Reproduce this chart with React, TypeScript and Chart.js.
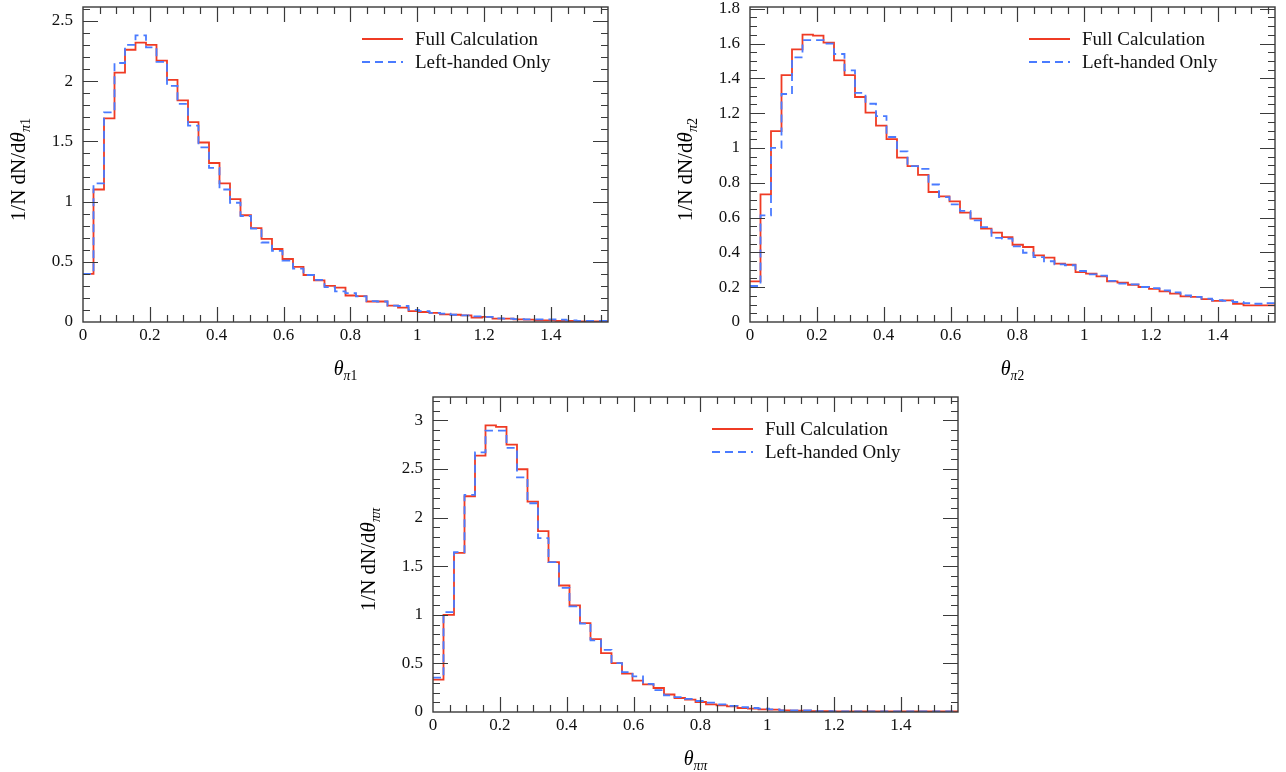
import React, { useEffect, useRef } from "react";
import { Chart, registerables } from "chart.js";

Chart.register(...registerables);

// ---------- data ----------
const BIN_COUNT = 50;
const X_MAX = Math.PI / 2;
const BIN_WIDTH = X_MAX / BIN_COUNT;

const seriesLabels = ["Full Calculation", "Left-handed Only"];

const xTickValues = [0, 0.2, 0.4, 0.6, 0.8, 1.0, 1.2, 1.4];
const xTickLabels = ["0", "0.2", "0.4", "0.6", "0.8", "1", "1.2", "1.4"];

const yTickValues1 = [0, 0.5, 1, 1.5, 2, 2.5];
const yTickLabels1 = ["0", "0.5", "1", "1.5", "2", "2.5"];
const yTickValues2 = [0, 0.2, 0.4, 0.6, 0.8, 1, 1.2, 1.4, 1.6, 1.8];
const yTickLabels2 = ["0", "0.2", "0.4", "0.6", "0.8", "1", "1.2", "1.4", "1.6", "1.8"];
const yTickValues3 = [0, 0.5, 1, 1.5, 2, 2.5, 3];
const yTickLabels3 = ["0", "0.5", "1", "1.5", "2", "2.5", "3"];

// theta_pi1
const full1 = [0.40, 1.10, 1.69, 2.07, 2.26, 2.32, 2.30, 2.17, 2.01, 1.84, 1.66, 1.49, 1.32, 1.15, 1.02, 0.886, 0.78, 0.69, 0.606, 0.523, 0.457, 0.39, 0.346, 0.30, 0.285, 0.22, 0.215, 0.17, 0.17, 0.136, 0.12, 0.09, 0.083, 0.075, 0.064, 0.06, 0.055, 0.036, 0.042, 0.028, 0.028, 0.022, 0.02, 0.014, 0.014, 0.01, 0.01, 0.006, 0.006, 0.006];
const left1 = [0.40, 1.15, 1.74, 2.15, 2.30, 2.38, 2.28, 2.16, 1.96, 1.81, 1.63, 1.45, 1.28, 1.10, 0.99, 0.88, 0.775, 0.66, 0.59, 0.51, 0.443, 0.39, 0.35, 0.29, 0.255, 0.24, 0.213, 0.174, 0.17, 0.136, 0.133, 0.10, 0.09, 0.075, 0.07, 0.06, 0.055, 0.047, 0.042, 0.03, 0.028, 0.024, 0.022, 0.022, 0.022, 0.019, 0.014, 0.01, 0.01, 0.01];

// theta_pi2
const full2 = [0.234, 0.733, 1.097, 1.419, 1.566, 1.651, 1.645, 1.605, 1.503, 1.419, 1.293, 1.203, 1.128, 1.051, 0.944, 0.896, 0.845, 0.747, 0.722, 0.693, 0.628, 0.594, 0.536, 0.513, 0.488, 0.444, 0.431, 0.383, 0.37, 0.335, 0.329, 0.287, 0.278, 0.262, 0.234, 0.226, 0.214, 0.201, 0.19, 0.176, 0.163, 0.147, 0.144, 0.132, 0.121, 0.124, 0.105, 0.096, 0.096, 0.096];
const left2 = [0.207, 0.613, 1.0, 1.31, 1.52, 1.62, 1.62, 1.60, 1.54, 1.446, 1.316, 1.254, 1.183, 1.063, 0.98, 0.896, 0.88, 0.79, 0.718, 0.676, 0.638, 0.584, 0.545, 0.483, 0.479, 0.435, 0.398, 0.373, 0.349, 0.331, 0.326, 0.293, 0.274, 0.266, 0.236, 0.22, 0.216, 0.201, 0.195, 0.182, 0.17, 0.153, 0.144, 0.134, 0.125, 0.121, 0.115, 0.109, 0.105, 0.109];

// theta_pipi
const full3 = [0.332, 1.0, 1.637, 2.219, 2.637, 2.949, 2.932, 2.75, 2.497, 2.164, 1.86, 1.541, 1.301, 1.096, 0.914, 0.75, 0.606, 0.503, 0.394, 0.322, 0.284, 0.247, 0.18, 0.144, 0.127, 0.103, 0.079, 0.068, 0.058, 0.041, 0.034, 0.027, 0.024, 0.017, 0.014, 0.014, 0.01, 0.01, 0.007, 0.007, 0.007, 0.007, 0.007, 0.007, 0.007, 0.007, 0.007, 0.007, 0.007, 0.007];
const left3 = [0.353, 1.027, 1.644, 2.233, 2.671, 2.894, 2.894, 2.716, 2.414, 2.147, 1.788, 1.541, 1.277, 1.086, 0.908, 0.736, 0.64, 0.503, 0.411, 0.366, 0.29, 0.225, 0.17, 0.154, 0.134, 0.113, 0.096, 0.079, 0.062, 0.051, 0.041, 0.034, 0.027, 0.017, 0.017, 0.017, 0.01, 0.01, 0.007, 0.007, 0.007, 0.007, 0.007, 0.007, 0.007, 0.007, 0.007, 0.007, 0.007, 0.007];

// ---------- styling ----------
const RED = "#ef3b24";
const BLUE = "#4a7bff";
const FRAME = "#3a3a3a";
const FONT = "'Liberation Serif', 'DejaVu Serif', serif";

const binEdges = Array.from({ length: BIN_COUNT + 1 }, (_, i) => i * BIN_WIDTH);

function histPoints(values: number[]) {
  return binEdges.map((x, i) => ({ x, y: values[Math.min(i, values.length - 1)] }));
}

type MathPart = { t: string; it?: boolean; sub?: boolean };

function mathWidth(ctx: CanvasRenderingContext2D, parts: MathPart[], size: number) {
  let w = 0;
  for (const p of parts) {
    const s = p.sub ? size * 0.68 : size;
    ctx.font = `${p.it ? "italic " : ""}${s}px ${FONT}`;
    w += ctx.measureText(p.t).width;
  }
  return w;
}

function drawMath(ctx: CanvasRenderingContext2D, parts: MathPart[], size: number, cx: number, cy: number, rotate: boolean) {
  ctx.save();
  ctx.translate(cx, cy);
  if (rotate) ctx.rotate(-Math.PI / 2);
  const w = mathWidth(ctx, parts, size);
  let x = -w / 2;
  ctx.fillStyle = "#000";
  ctx.textBaseline = "alphabetic";
  ctx.textAlign = "left";
  const base = size * 0.33;
  for (const p of parts) {
    const s = p.sub ? size * 0.68 : size;
    ctx.font = `${p.it ? "italic " : ""}${s}px ${FONT}`;
    ctx.fillText(p.t, x, base + (p.sub ? size * 0.25 : 0));
    x += ctx.measureText(p.t).width;
  }
  ctx.restore();
}

const framePlugin = {
  id: "frame",
  afterDatasetsDraw(chart: any, _args: any, opts: any) {
    const { ctx, chartArea: a, scales } = chart;
    const xs = scales.x;
    const ys = scales.y;
    ctx.save();
    ctx.strokeStyle = FRAME;
    ctx.lineWidth = 1.4;
    ctx.strokeRect(a.left, a.top, a.right - a.left, a.bottom - a.top);
    const MAJ = 15;
    const MIN = 7;
    ctx.lineWidth = 1.2;
    ctx.beginPath();
    // x ticks
    for (let v = 0; v <= X_MAX + 1e-9; v += 0.05) {
      const r = Math.round(v * 100) / 100;
      const major = Math.abs(r * 5 - Math.round(r * 5)) < 1e-6;
      const len = major ? MAJ : MIN;
      const px = Math.round(xs.getPixelForValue(r)) + 0.5;
      if (px <= a.left + 1 || px >= a.right - 1) continue;
      ctx.moveTo(px, a.bottom);
      ctx.lineTo(px, a.bottom - len);
      ctx.moveTo(px, a.top);
      ctx.lineTo(px, a.top + len);
    }
    // y ticks
    const step = opts.yMinorStep;
    const majorStep = opts.yMajorStep;
    for (let i = 0; i * step <= ys.max + 1e-9; i++) {
      const v = i * step;
      const ratio = v / majorStep;
      const major = Math.abs(ratio - Math.round(ratio)) < 1e-6;
      const len = major ? MAJ : MIN;
      const py = Math.round(ys.getPixelForValue(v)) + 0.5;
      if (py >= a.bottom - 1 || py <= a.top + 1) continue;
      ctx.moveTo(a.left, py);
      ctx.lineTo(a.left + len, py);
      ctx.moveTo(a.right, py);
      ctx.lineTo(a.right - len, py);
    }
    ctx.stroke();
    ctx.restore();
  },
  afterDraw(chart: any, _args: any, opts: any) {
    const { ctx, chartArea: a, data } = chart;
    ctx.save();
    // legend
    const rows = [
      { y: a.top + 32, color: RED, dash: [] as number[], label: data.datasets[0].label },
      { y: a.top + 55, color: BLUE, dash: [8, 5], label: data.datasets[1].label },
    ];
    for (const r of rows) {
      ctx.strokeStyle = r.color;
      ctx.lineWidth = 1.8;
      ctx.setLineDash(r.dash);
      ctx.beginPath();
      ctx.moveTo(a.right - 246, r.y);
      ctx.lineTo(a.right - 205, r.y);
      ctx.stroke();
      ctx.setLineDash([]);
      ctx.fillStyle = "#111";
      ctx.font = `19px ${FONT}`;
      ctx.textBaseline = "middle";
      ctx.textAlign = "left";
      ctx.fillText(r.label, a.right - 193, r.y + 1);
    }
    ctx.restore();
    // axis titles
    drawMath(ctx, opts.yTitle, 21, a.left - 65, (a.top + a.bottom) / 2 + 5, true);
    drawMath(ctx, opts.xTitle, 20, (a.left + a.right) / 2, a.bottom + 46, false);
  },
};

type PanelProps = {
  left: number;
  top: number;
  width: number;
  height: number;
  padRight: number;
  full: number[];
  leftOnly: number[];
  yMax: number;
  yTicks: number[];
  yLabels: string[];
  yMinorStep: number;
  yMajorStep: number;
  sub: MathPart[];
};

function Panel(p: PanelProps) {
  const ref = useRef<HTMLCanvasElement | null>(null);
  useEffect(() => {
    if (!ref.current) return;
    const tickFont = { family: FONT, size: 17 };
    const chart = new Chart(ref.current, {
      type: "line",
      data: {
        datasets: [
          {
            label: seriesLabels[0],
            data: histPoints(p.full),
            borderColor: RED,
            borderWidth: 1.8,
            stepped: "before",
            pointRadius: 0,
            fill: false,
            order: 2,
          },
          {
            label: seriesLabels[1],
            data: histPoints(p.leftOnly),
            borderColor: BLUE,
            borderWidth: 1.8,
            borderDash: [8, 5],
            stepped: "before",
            pointRadius: 0,
            fill: false,
            order: 1,
          },
        ],
      },
      options: {
        animation: false,
        responsive: false,
        maintainAspectRatio: false,
        layout: { padding: { top: 7, right: p.padRight, left: 0, bottom: p.height - 322 - 40 } },
        scales: {
          x: {
            type: "linear",
            min: 0,
            max: X_MAX,
            grid: { display: false, drawTicks: false },
            border: { display: false },
            afterBuildTicks: (s: any) => {
              s.ticks = xTickValues.map((v) => ({ value: v }));
            },
            afterFit: (s: any) => {
              s.height = 40;
              s.paddingLeft = 0;
              s.paddingRight = 0;
            },
            ticks: {
              autoSkip: false,
              maxRotation: 0,
              padding: 3,
              color: "#111",
              font: tickFont,
              callback: (_v: any, i: number) => xTickLabels[i],
            },
          },
          y: {
            type: "linear",
            min: 0,
            max: p.yMax,
            grid: { display: false, drawTicks: false },
            border: { display: false },
            afterBuildTicks: (s: any) => {
              s.ticks = p.yTicks.map((v) => ({ value: v }));
            },
            afterFit: (s: any) => {
              s.width = 83;
              s.paddingTop = 0;
              s.paddingBottom = 0;
            },
            ticks: {
              autoSkip: false,
              padding: 10,
              color: "#111",
              font: tickFont,
              callback: (_v: any, i: number) => p.yLabels[i],
            },
          },
        },
        plugins: {
          legend: { display: false },
          tooltip: { enabled: false },
          frame: {
            yMinorStep: p.yMinorStep,
            yMajorStep: p.yMajorStep,
            yTitle: [{ t: "1/N dN/d" }, { t: "θ", it: true }, ...p.sub],
            xTitle: [{ t: "θ", it: true }, ...p.sub],
          },
        } as any,
      },
      plugins: [framePlugin],
    });
    return () => chart.destroy();
  }, []);
  return (
    <canvas
      ref={ref}
      width={p.width}
      height={p.height}
      style={{ position: "absolute", left: p.left, top: p.top, width: p.width, height: p.height }}
    />
  );
}

export default function App() {
  return (
    <div style={{ position: "absolute", left: 0, top: 0, width: 1286, height: 772, background: "#fff", overflow: "hidden" }}>
      <Panel
        left={0}
        top={0}
        width={640}
        height={385}
        padRight={32}
        full={full1}
        leftOnly={left1}
        yMax={2.615}
        yTicks={yTickValues1}
        yLabels={yTickLabels1}
        yMinorStep={0.1}
        yMajorStep={0.5}
        sub={[{ t: "π", it: true, sub: true }, { t: "1", sub: true }]}
      />
      <Panel
        left={667}
        top={0}
        width={619}
        height={385}
        padRight={11}
        full={full2}
        leftOnly={left2}
        yMax={1.81}
        yTicks={yTickValues2}
        yLabels={yTickLabels2}
        yMinorStep={0.05}
        yMajorStep={0.2}
        sub={[{ t: "π", it: true, sub: true }, { t: "2", sub: true }]}
      />
      <Panel
        left={350}
        top={390}
        width={640}
        height={382}
        padRight={32}
        full={full3}
        leftOnly={left3}
        yMax={3.24}
        yTicks={yTickValues3}
        yLabels={yTickLabels3}
        yMinorStep={0.1}
        yMajorStep={0.5}
        sub={[{ t: "ππ", it: true, sub: true }]}
      />
    </div>
  );
}
